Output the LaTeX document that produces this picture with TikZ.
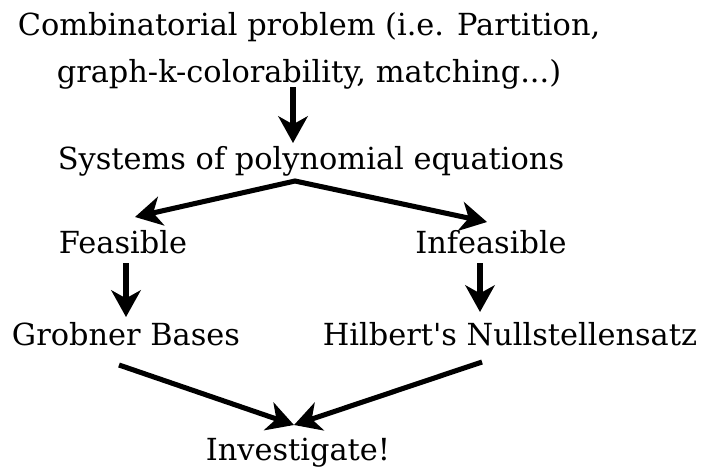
\documentclass[tikz,border=0pt]{standalone}
\usepackage{fontspec}
\setmainfont{DejaVu Serif}[Ligatures=TeXOff]
\usepackage{tikz}
\usetikzlibrary{arrows.meta,calc}

\begin{document}
\begin{tikzpicture}[
      x=0.75pt,y=-0.75pt,
      lbl/.style={inner sep=0pt,anchor=base,align=center,font=\fontsize{22.8pt}{35pt}\selectfont},
      tip/.tip={Stealth[length=20pt,width=22pt,inset=6pt]},
      arr/.style={line width=3.8pt,-tip},
    ]
    \useasboundingbox (0,0) rectangle (706,468);
    \node[lbl] (prob) at (309,82) {Combinatorial problem (i.e. Partition,\\graph-k-colorability, matching...)};
    \node[lbl] (sys) at (311,169) {Systems of polynomial equations};
    \node[lbl] (feas) at (123,253) {Feasible};
    \node[lbl] (infeas) at (491,253) {Infeasible};
    \node[lbl] (grob) at (126,345) {Grobner Bases};
    \node[lbl] (hilb) at (510,345) {Hilbert's Nullstellensatz};
    \node[lbl] (inv) at (298,460) {Investigate!};
    \draw[arr] ($(prob.base)+(-16,5)$) -- ($(sys.base)+(-18,-26)$);
    \draw[arr,tip-tip,line join=miter]
      ($(feas.base)+(12,-36)$) -- ($(sys.base)+(-16,12)$) -- ($(infeas.base)+(-4,-31)$);
    \draw[arr] ($(feas.base)+(3,10)$) -- ($(grob.base)+(0,-28)$);
    \draw[arr] ($(infeas.base)+(-11,10)$) -- ($(hilb.base)+(-30,-33)$);
    \draw[arr] ($(grob.base)+(-7,20)$) -- ($(inv.base)+(-4,-35)$);
    \draw[arr] ($(hilb.base)+(-28,17)$) -- ($(inv.base)+(-4,-35)$);
  \end{tikzpicture}
\end{document}
